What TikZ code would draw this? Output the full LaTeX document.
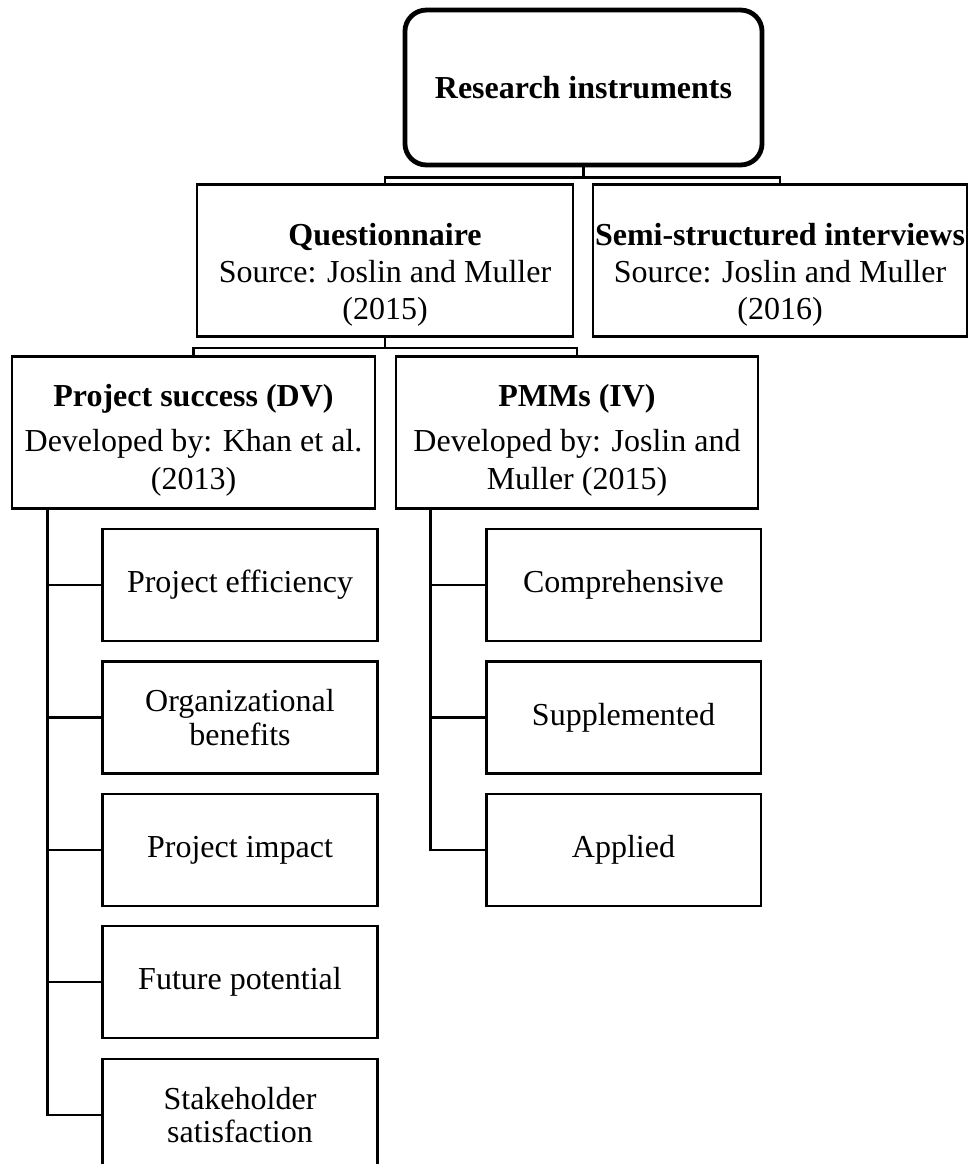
\documentclass[tikz,border=0pt]{standalone}
\usepackage{fontspec}
\setmainfont{Liberation Serif}
\tikzset{
  topbox/.style={draw, line width=1.8pt, rounded corners=8pt, minimum width=133.9pt, minimum height=58.1pt, font=\fontsize{12}{14}\selectfont\bfseries},
  midbox/.style={draw, line width=1pt, align=center, minimum height=57pt, inner sep=0pt, font=\fontsize{12}{14}\selectfont},
  leafbox/.style={draw, line width=1pt, align=center, minimum width=103pt, minimum height=42pt, inner sep=0pt, font=\fontsize{12}{12.5}\selectfont},
  link/.style={line width=1pt}
}
\begin{document}
\begin{tikzpicture}[x=0.375pt, y=-0.375pt]
    \useasboundingbox (0,0) rectangle (969,1164);
    \clip (0,0) rectangle (969,1164);%图片边缘裁掉
    \node[topbox] (res) at (583.5,87.5) {Research instruments};
    \node[midbox, minimum width=141pt] (quest) at (385,260.5) {\rule{0pt}{19pt}\textbf{Questionnaire}\\Source: Joslin and Muller\\(2015)};
    \node[midbox, minimum width=140.25pt] (semi) at (780,260.5) {\rule{0pt}{19pt}\textbf{Semi-structured interviews}\\Source: Joslin and Muller\\(2016)};
    \node[midbox, minimum width=136.1pt] (ps) at (193.5,432.5) {\rule{0pt}{14pt}\textbf{Project success (DV)}\\[3pt]Developed by: Khan et al.\\(2013)};
    \node[midbox, minimum width=135.75pt] (pmm) at (577,432.5) {\rule{0pt}{14pt}\textbf{PMMs (IV)}\\[3pt]Developed by: Joslin and\\Muller (2015)};
    %左侧一列
    \node[leafbox] (pe) at (240,585) {Project efficiency};
    \node[leafbox] (ob) at (240,717.5) {Organizational\\benefits};
    \node[leafbox] (pi) at (240,850) {Project impact};
    \node[leafbox] (fp) at (240,982) {Future potential};
    \node[leafbox] (ss) at (240,1115) {Stakeholder\\satisfaction};
    %右侧一列
    \node[leafbox] (cm) at (623.5,585) {Comprehensive};
    \node[leafbox] (su) at (623.5,717.5) {Supplemented};
    \node[leafbox] (ap) at (623.5,850) {Applied};
    \draw[link] (res.south) -- ++(0,10) coordinate (rj);
    \draw[link] (quest.north) |- (rj) -| (semi.north);
    \draw[link] (quest.south) -- ++(0,10) coordinate (qj);
    \draw[link] (ps.north) |- (qj) -| (pmm.north);
    \path (ps.south west) ++(37,0) coordinate (lt);
    \foreach \n in {pe,ob,pi,fp,ss} \draw[link] (lt) |- (\n.west);
    \path (pmm.south west) ++(36,0) coordinate (rt);
    \foreach \n in {cm,su,ap} \draw[link] (rt) |- (\n.west);
\end{tikzpicture}
\end{document}
